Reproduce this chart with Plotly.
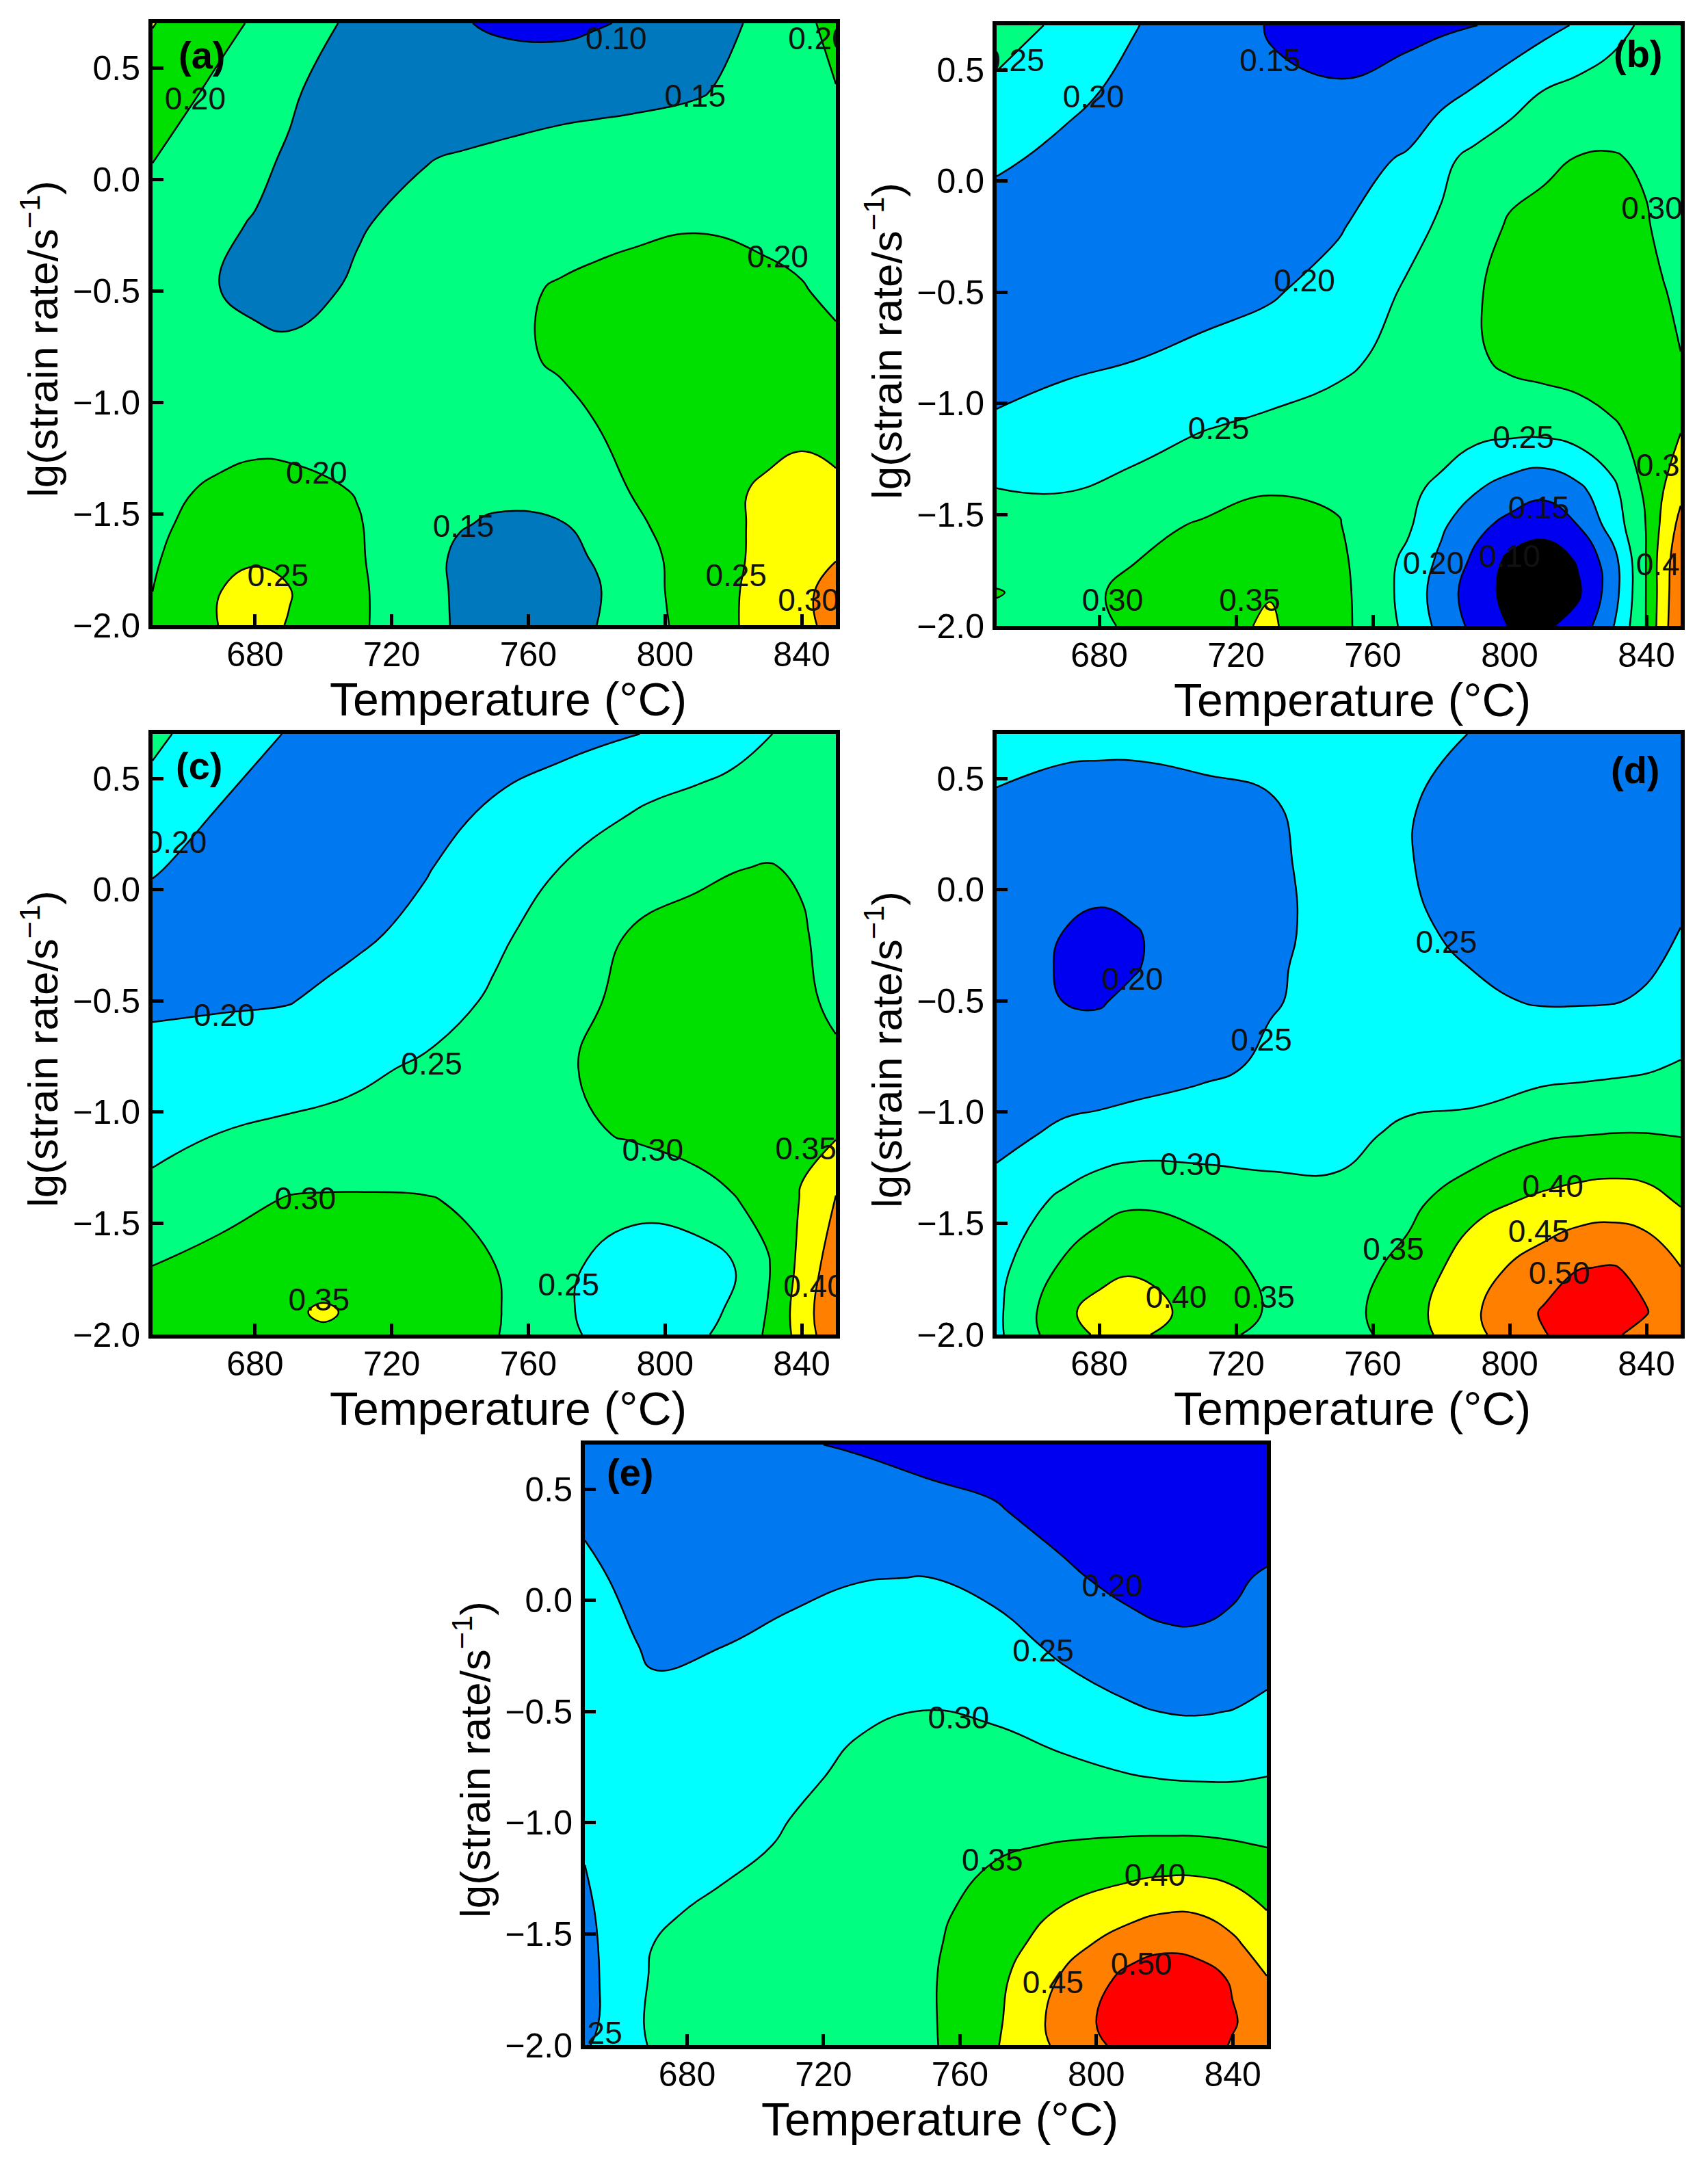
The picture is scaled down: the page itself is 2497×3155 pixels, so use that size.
import plotly.graph_objects as go

W = 2497
H = 3155

# band colours from 0.05 upward, one per 0.05 step
cols_a = ["#0000F0", "#0078BE", "#00FF80", "#00E000", "#FFFF00", "#FF8000", "#FF0000", "#FF0000", "#FF0000", "#FF0000"]
cols_b = ["#000000", "#0000F0", "#0078F0", "#00FFFF", "#00FF80", "#00E000", "#FFFF00", "#FF8000", "#FF0000", "#FF0000"]
cols_d = ["#000000", "#000000", "#0000F0", "#0078F0", "#00FFFF", "#00FF80", "#00E000", "#FFFF00", "#FF8000", "#FF0000"]

temp_a = [650, 670, 680, 690, 710, 730, 740, 750, 770, 780, 790, 810, 830, 840, 850]
lg_a = [-2, -1.85, -1.7, -1.55, -1.4, -1.1, -0.8, -0.5, -0.2, 0.1, 0.4, 0.7]
z_a = [
    [.202, .252, .262, .248, .208, .162, .145, .135, .138, .150, .172, .222, .270, .288, .315],
    [.200, .250, .265, .252, .208, .162, .144, .133, .134, .146, .175, .225, .267, .288, .320],
    [.195, .235, .245, .240, .205, .162, .143, .135, .140, .153, .178, .225, .262, .280, .298],
    [.190, .222, .230, .228, .203, .166, .152, .146, .148, .165, .190, .228, .260, .272, .285],
    [.185, .210, .218, .215, .198, .170, .163, .157, .165, .182, .201, .230, .258, .265, .258],
    [.165, .175, .180, .180, .178, .175, .175, .175, .190, .200, .208, .225, .232, .240, .235],
    [.165, .158, .160, .158, .165, .175, .182, .190, .205, .210, .215, .222, .222, .220, .212],
    [.165, .149, .142, .138, .155, .172, .181, .190, .204, .208, .212, .218, .210, .203, .190],
    [.170, .155, .148, .138, .147, .162, .169, .175, .185, .190, .193, .197, .190, .185, .178],
    [.203, .180, .158, .146, .135, .148, .153, .158, .166, .167, .168, .172, .175, .178, .178],
    [.225, .190, .172, .156, .125, .115, .118, .123, .133, .137, .140, .147, .165, .182, .198],
    [.252, .212, .195, .175, .140, .113, .103, .095, .088, .096, .105, .132, .160, .185, .220],
]

temp_b = [650, 670, 690, 710, 730, 750, 770, 780, 790, 800, 810, 820, 830, 840, 845, 850]
lg_b = [-2, -1.85, -1.7, -1.55, -1.4, -1.1, -0.8, -0.5, -0.2, 0.1, 0.4, 0.7]
z_b = [
    [.290, .285, .305, .335, .355, .315, .240, .185, .135, .098, .092, .118, .195, .302, .385, .440],
    [.302, .285, .310, .335, .348, .315, .235, .175, .125, .085, .070, .093, .175, .302, .380, .440],
    [.285, .285, .298, .320, .335, .310, .240, .190, .140, .090, .075, .105, .180, .302, .380, .430],
    [.270, .270, .285, .305, .320, .302, .258, .208, .163, .135, .118, .150, .220, .302, .365, .415],
    [.253, .250, .262, .280, .298, .295, .258, .240, .201, .175, .160, .185, .235, .310, .351, .390],
    [.205, .217, .232, .247, .258, .265, .270, .272, .270, .268, .270, .280, .297, .310, .325, .345],
    [.185, .192, .199, .210, .224, .242, .262, .275, .293, .310, .318, .322, .320, .312, .306, .301],
    [.175, .178, .180, .185, .195, .220, .255, .275, .297, .310, .322, .328, .325, .312, .302, .292],
    [.172, .172, .172, .175, .180, .195, .237, .255, .278, .305, .318, .322, .315, .303, .290, .280],
    [.210, .185, .175, .172, .170, .180, .205, .240, .262, .280, .288, .302, .303, .295, .288, .280],
    [.240, .215, .185, .168, .155, .153, .165, .185, .205, .228, .252, .265, .275, .285, .285, .285],
    [.272, .240, .203, .170, .148, .138, .140, .143, .149, .165, .185, .205, .232, .260, .270, .280],
]

temp_c = [650, 670, 690, 700, 710, 730, 750, 770, 790, 810, 820, 830, 840, 850]
lg_c = [-2, -1.9, -1.7, -1.4, -1.1, -0.8, -0.5, -0.2, 0.1, 0.4, 0.7]
z_c = [
    [.318, .330, .340, .345, .343, .332, .303, .262, .220, .240, .272, .305, .370, .440],
    [.322, .333, .345, .354, .345, .335, .305, .258, .215, .225, .262, .302, .375, .445],
    [.301, .318, .332, .335, .335, .325, .301, .260, .225, .222, .248, .295, .365, .430],
    [.265, .283, .304, .306, .306, .303, .290, .275, .265, .282, .297, .315, .353, .405],
    [.235, .251, .258, .260, .262, .268, .278, .290, .304, .318, .325, .330, .342, .345],
    [.215, .222, .232, .237, .243, .255, .275, .297, .310, .320, .325, .328, .325, .312],
    [.193, .195, .198, .208, .217, .233, .255, .283, .312, .323, .325, .325, .312, .288],
    [.175, .175, .178, .182, .192, .213, .243, .267, .303, .318, .322, .320, .304, .285],
    [.205, .178, .168, .168, .172, .197, .225, .251, .272, .290, .298, .302, .296, .285],
    [.235, .201, .178, .172, .165, .175, .202, .222, .245, .260, .267, .272, .275, .275],
    [.260, .225, .197, .185, .175, .172, .178, .185, .197, .220, .232, .248, .262, .270],
]

temp_d = [650, 670, 680, 690, 710, 730, 750, 770, 790, 810, 820, 830, 840, 850]
lg_d = [-2, -1.9, -1.7, -1.4, -1.1, -0.8, -0.5, -0.35, -0.2, 0.1, 0.4, 0.7]
z_d = [
    [.290, .385, .405, .410, .370, .335, .325, .375, .440, .498, .515, .505, .488, .475],
    [.290, .392, .415, .420, .385, .345, .330, .380, .445, .505, .535, .530, .502, .468],
    [.285, .360, .385, .395, .370, .340, .325, .365, .430, .475, .498, .503, .488, .451],
    [.270, .310, .330, .343, .335, .320, .312, .335, .385, .410, .420, .425, .418, .395],
    [.235, .260, .266, .270, .272, .275, .285, .310, .315, .344, .348, .351, .351, .348],
    [.215, .220, .222, .230, .243, .255, .265, .273, .278, .283, .286, .290, .295, .305],
    [.225, .199, .197, .208, .230, .248, .258, .262, .255, .247, .247, .248, .254, .262],
    [.230, .194, .187, .197, .225, .247, .258, .260, .249, .240, .238, .240, .246, .257],
    [.235, .198, .190, .197, .220, .245, .258, .257, .242, .233, .232, .232, .238, .252],
    [.240, .222, .215, .217, .228, .245, .260, .252, .235, .225, .225, .225, .228, .232],
    [.247, .235, .232, .232, .242, .248, .265, .254, .232, .222, .222, .222, .225, .228],
    [.262, .262, .262, .262, .262, .268, .275, .265, .248, .235, .233, .232, .232, .232],
]

temp_e = [650, 670, 690, 710, 730, 750, 770, 790, 810, 820, 830, 840, 850]
lg_e = [-2, -1.9, -1.7, -1.55, -1.4, -1.1, -0.8, -0.5, -0.2, 0.1, 0.4, 0.7]
z_e = [
    [.245, .305, .312, .318, .325, .340, .395, .462, .520, .535, .530, .495, .465],
    [.235, .310, .318, .322, .330, .342, .390, .470, .530, .545, .535, .505, .470],
    [.235, .305, .315, .320, .330, .343, .385, .455, .515, .530, .520, .495, .452],
    [.238, .300, .312, .320, .330, .342, .375, .430, .478, .490, .485, .460, .425],
    [.243, .292, .310, .318, .328, .340, .365, .405, .435, .448, .447, .430, .401],
    [.253, .272, .285, .305, .318, .330, .345, .352, .357, .358, .358, .354, .348],
    [.268, .268, .275, .292, .308, .318, .320, .315, .303, .299, .297, .297, .301],
    [.255, .262, .270, .280, .295, .301, .295, .275, .255, .249, .247, .251, .262],
    [.275, .243, .249, .265, .275, .283, .270, .240, .222, .212, .212, .215, .225],
    [.263, .225, .218, .235, .248, .251, .235, .210, .183, .175, .172, .190, .208],
    [.240, .228, .226, .228, .230, .215, .205, .180, .165, .160, .157, .157, .160],
    [.235, .225, .215, .205, .195, .185, .175, .160, .155, .153, .152, .152, .152],
]

# contour labels: text, temperature, lg rate
lab_a = [["0.10", "0.20", "0.20", "0.15", "0.20", "0.20", "0.15", "0.25", "0.25", "0.30"],
         [785.7, 845, 662.5, 808.8, 833, 698, 741, 686.7, 820.8, 842],
         [.62, .62, .35, .36, -.36, -1.33, -1.57, -1.79, -1.79, -1.90]]
lab_b = [["0.25", "0.20", "0.15", "0.30", "0.20", "0.25", "0.25", "0.30", "0.15", "0.20", "0.10", "0.40", "0.30", "0.35"],
         [655, 678.3, 730, 841.6, 740, 714.9, 804, 845.9, 808.5, 777.7, 800, 845.9, 683.9, 724],
         [.53, .366, .53, -.135, -.46, -1.124, -1.166, -1.29, -1.483, -1.73, -1.70, -1.737, -1.898, -1.898]]
lab_c = [["0.20", "0.20", "0.25", "0.30", "0.35", "0.30", "0.35", "0.25", "0.40"],
         [656.9, 671, 731.7, 796.4, 841.2, 694.7, 698.7, 771.8, 843.6],
         [.20, -.578, -.795, -1.182, -1.176, -1.403, -1.856, -1.79, -1.795]]
lab_d = [["0.20", "0.25", "0.25", "0.30", "0.40", "0.45", "0.35", "0.50", "0.40", "0.35"],
         [689.7, 727.4, 781.5, 706.8, 812.6, 808.5, 766, 814.5, 702.5, 728.2],
         [-.414, -.688, -.248, -1.248, -1.345, -1.55, -1.63, -1.737, -1.846, -1.846]]
lab_e = [["0.20", "0.25", "0.30", "0.35", "0.40", "0.50", "0.45", "0.25"],
         [804.7, 784.4, 759.6, 769.5, 817.2, 813.2, 787.3, 652],
         [.053, -.239, -.542, -1.18, -1.247, -1.648, -1.732, -1.957]]

x_ticks = [680, 720, 760, 800, 840]
y_ticks = [-2, -1.5, -1, -0.5, 0, 0.5]

# name, x, y, z, colours, labels, left, right, top, bottom (pixels), tag position
panels = [
    ("(a)", temp_a, lg_a, z_a, cols_a, lab_a, 223, 1222, 34, 914, 664.4, .556),
    ("(b)", temp_b, lg_b, z_b, cols_b, lab_b, 1457, 2457, 37, 915, 837.6, .572),
    ("(c)", temp_c, lg_c, z_c, cols_b, lab_c, 223, 1222, 1073, 1951, 663.6, .556),
    ("(d)", temp_d, lg_d, z_d, cols_d, lab_d, 1457, 2457, 1073, 1951, 836.8, .54),
    ("(e)", temp_e, lg_e, z_e, cols_d, lab_e, 855, 1852, 2112, 2990, 663.3, .575),
]


def step_scale(cols):
    n = len(cols)
    scale = []
    for i, c in enumerate(cols):
        scale.append([i / n, c])
        scale.append([(i + 1) / n, c])
    return scale


fig = go.Figure()
layout = {}
annos = []
for i, p in enumerate(panels):
    tag, xs, ys, zs, cols, lab, left, right, top, bottom, tx, ty = p
    n = str(i + 1)
    fig.add_trace(go.Contour(x=xs, y=ys, z=zs, xaxis="x" + n, yaxis="y" + n,
                             colorscale=step_scale(cols), zmin=.05, zmax=.55, showscale=False,
                             autocontour=False,
                             contours=dict(start=.10, end=.50, size=.05, coloring="fill"),
                             line=dict(color="black", width=2.5, smoothing=1.3)))
    fig.add_trace(go.Scatter(x=lab[1], y=lab[2], text=lab[0], mode="text", cliponaxis=True,
                             xaxis="x" + n, yaxis="y" + n, showlegend=False,
                             textfont=dict(family="Liberation Sans", size=46, color="#111111")))
    layout["xaxis" + n] = dict(domain=[left / W, right / W], range=[650, 850], anchor="y" + n,
                               automargin=False, tickvals=x_ticks, ticks="inside", ticklen=16, tickwidth=5,
                               tickcolor="black", showgrid=False, zeroline=False,
                               showline=True, mirror=True, linewidth=6, linecolor="black",
                               tickfont=dict(size=50), layer="above traces", ticklabelstandoff=-6)
    layout["yaxis" + n] = dict(domain=[1 - bottom / H, 1 - top / H], range=[-2, .7], anchor="x" + n,
                               automargin=False, tickvals=y_ticks, tickformat=".1f", ticks="inside", ticklen=16, tickwidth=5,
                               tickcolor="black", showgrid=False, zeroline=False,
                               showline=True, mirror=True, linewidth=6, linecolor="black",
                               tickfont=dict(size=50), layer="above traces", ticklabelstandoff=2)
    annos.append(dict(x=tx, y=ty, xref="x" + n, yref="y" + n, text="<b>" + tag + "</b>", showarrow=False,
                      font=dict(size=56, color="black")))
    # axis titles sit off-centre in the original, so they go in as annotations
    annos.append(dict(x=((left + right) / 2 + 20) / W, y=1 - (bottom + 108) / H, xref="paper", yref="paper",
                      xanchor="center", yanchor="middle",
                      text="Temperature (°C)", showarrow=False, font=dict(size=68, color="black")))
    annos.append(dict(x=(left - 165) / W, y=1 - ((top + bottom) / 2 + 22) / H, xref="paper", yref="paper",
                      xanchor="center", yanchor="middle",
                      text="lg(strain rate/s<sup>−1</sup>)", textangle=-90, showarrow=False,
                      font=dict(size=62, color="black")))

fig.update_layout(width=W, height=H, margin=dict(l=0, r=0, t=0, b=0), showlegend=False,
                  paper_bgcolor="white", plot_bgcolor="white",
                  font=dict(family="Liberation Sans", color="black"), annotations=annos, **layout)

fig.write_html("out.html", config={"displayModeBar": False}, post_script="document.body.style.margin='0';")
